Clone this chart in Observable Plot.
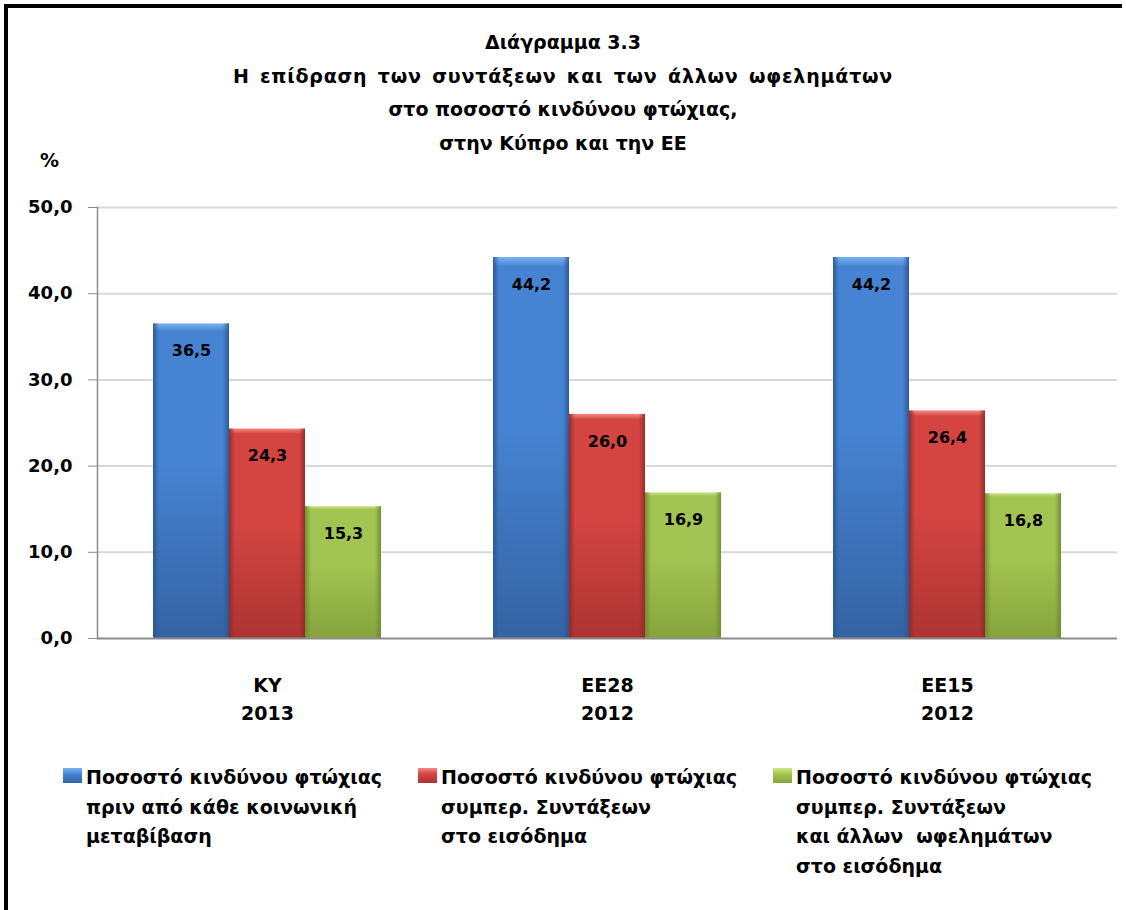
<!DOCTYPE html>
<html><head><meta charset="utf-8">
<script src="https://cdn.jsdelivr.net/npm/d3@7"></script>
<script src="https://cdn.jsdelivr.net/npm/@observablehq/plot@0.6"></script>
<style>
body{margin:0;background:#fff;font-family:"DejaVu Sans",sans-serif;font-weight:bold;color:#000}
#wrap{position:relative;width:1126px;height:910px;overflow:hidden;background:#fff}
#frame{position:absolute;left:4px;top:4px;width:1114px;height:920px;border-left:4px solid #000;border-top:4px solid #000}
#title{position:absolute;left:0;width:1126px;top:26px;text-align:center;font-size:19px;line-height:33.7px}
#title div{white-space:pre}
#title .wide{letter-spacing:0.8px;word-spacing:3px}
#unit{position:absolute;left:40px;top:149px;font-size:19px;line-height:22px}
#chart{position:absolute;left:0;top:180px}
.sw{position:absolute;width:19px;height:15px;top:768px}
.lt{position:absolute;top:763px;font-size:19px;line-height:29.5px;white-space:pre}
</style></head>
<body><div id="wrap"><div id="frame"></div><div id="title"></div><div id="unit"></div><div id="chart"></div><div id="legend"></div></div>
<script>
const titleLines = ["Διάγραμμα 3.3", "Η επίδραση των συντάξεων και των άλλων ωφελημάτων", "στο ποσοστό κινδύνου φτώχιας,", "στην Κύπρο και την ΕΕ"];
const unitLabel = "%";
const groups = ["ΚΥ", "ΕΕ28", "ΕΕ15"];
const years = ["2013", "2012", "2012"];
const seriesKeys = ["before", "pensions", "benefits"];
const seriesLabels = [
  ["Ποσοστό κινδύνου φτώχιας", "πριν από κάθε κοινωνική", "μεταβίβαση"],
  ["Ποσοστό κινδύνου φτώχιας", "συμπερ. Συντάξεων", "στο εισόδημα"],
  ["Ποσοστό κινδύνου φτώχιας", "συμπερ. Συντάξεων", "και άλλων  ωφελημάτων", "στο εισόδημα"]
];
const beforeTransfers = [36.5, 44.2, 44.2];
const withPensions = [24.3, 26.0, 26.4];
const withPensionsAndBenefits = [15.3, 16.9, 16.8];
const yTicks = [0, 10, 20, 30, 40, 50];

const seriesValues = [beforeTransfers, withPensions, withPensionsAndBenefits];
const palette = {
  before: {top: "#7ab2f2", mid: "#4683d2", bot: "#3463a3", edge: "#2a5590"},
  pensions: {top: "#f58885", mid: "#d44542", bot: "#ad3432", edge: "#8f2a28"},
  benefits: {top: "#cfe88a", mid: "#a2c452", bot: "#86a43c", edge: "#6c8a2c"}
};
const rows = [];
seriesKeys.forEach((s, si) => groups.forEach((g, gi) => rows.push({group: g, series: s, value: seriesValues[si][gi]})));
const fmt = v => v.toFixed(1).replace(".", ",");

const titleEl = document.getElementById("title");
titleLines.forEach((line, i) => {
  const d = document.createElement("div");
  if (i === 1) d.className = "wide";
  d.textContent = line;
  titleEl.appendChild(d);
});
document.getElementById("unit").textContent = unitLabel;

const font = "DejaVu Sans";
const marks = [
  Plot.gridY({ticks: yTicks.filter(t => t > 0), stroke: "#d9d9d9", strokeOpacity: 1, strokeWidth: 2}),
];
seriesKeys.forEach(s => {
  const data = rows.filter(r => r.series === s);
  marks.push(Plot.barY(data, {fx: "group", x: "series", y: "value", fill: `url(#v-${s})`}));
  marks.push(Plot.barY(data, {fx: "group", x: "series", y: "value", fill: `url(#h-${s})`}));
});
marks.push(
  Plot.text(rows, {fx: "group", x: "series", y: "value", text: d => fmt(d.value), dy: 27, fontSize: 16, fontWeight: "bold", fill: "#000"}),
  Plot.ruleY([0], {stroke: "#8c8c8c", strokeWidth: 2}),
  Plot.frame({anchor: "left", facetAnchor: "left", stroke: "#8c8c8c", strokeWidth: 1.5}),
  Plot.axisY({ticks: yTicks, tickFormat: fmt, tickSize: 9, tickPadding: 16, fontSize: 18, fontWeight: "bold", stroke: "#8c8c8c", fill: "#000", label: null}),
  Plot.axisFx({anchor: "bottom", tickSize: 0, tickPadding: 34, tickFormat: g => g + "\n" + years[groups.indexOf(g)], fontSize: 19, fontWeight: "bold", lineHeight: 1.47, fill: "#000", label: null})
);

const plot = Plot.plot({
  width: 1126, height: 558,
  marginLeft: 96, marginRight: 9, marginTop: 27, marginBottom: 100,
  style: {fontFamily: font, fontWeight: "bold", color: "#000", background: "transparent", overflow: "visible"},
  fx: {domain: groups, paddingInner: 0, paddingOuter: 0, label: null},
  x: {domain: seriesKeys, paddingInner: 0, paddingOuter: 0.71, axis: null},
  y: {domain: [0, 50], label: null},
  marks
});

const svg = d3.select(plot);
const defs = svg.insert("defs", ":first-child");
seriesKeys.forEach(s => {
  const p = palette[s];
  const v = defs.append("linearGradient").attr("id", `v-${s}`).attr("x1", 0).attr("y1", 0).attr("x2", 0).attr("y2", 1);
  [[0, p.top], [0.025, p.mid], [0.45, p.mid], [1, p.bot]].forEach(([o, c]) => v.append("stop").attr("offset", o).attr("stop-color", c));
  const h = defs.append("linearGradient").attr("id", `h-${s}`).attr("x1", 0).attr("y1", 0).attr("x2", 1).attr("y2", 0);
  [[0, p.edge, 0.9], [0.08, p.edge, 0], [0.92, p.edge, 0], [1, p.edge, 0.9]].forEach(([o, c, a]) => h.append("stop").attr("offset", o).attr("stop-color", c).attr("stop-opacity", a));
});
document.getElementById("chart").appendChild(plot);

// legend
const legend = document.getElementById("legend");
const swX = [63, 418, 773];
const txX = [86, 441, 796];
seriesKeys.forEach((s, i) => {
  const p = palette[s];
  const sw = document.createElement("div");
  sw.className = "sw";
  sw.style.left = swX[i] + "px";
  sw.style.background = `linear-gradient(to bottom, ${p.top}, ${p.mid} 40%, ${p.bot})`;
  legend.appendChild(sw);
  const t = document.createElement("div");
  t.className = "lt";
  t.style.left = txX[i] + "px";
  t.textContent = seriesLabels[i].join("\n");
  legend.appendChild(t);
});
</script>
</body></html>
